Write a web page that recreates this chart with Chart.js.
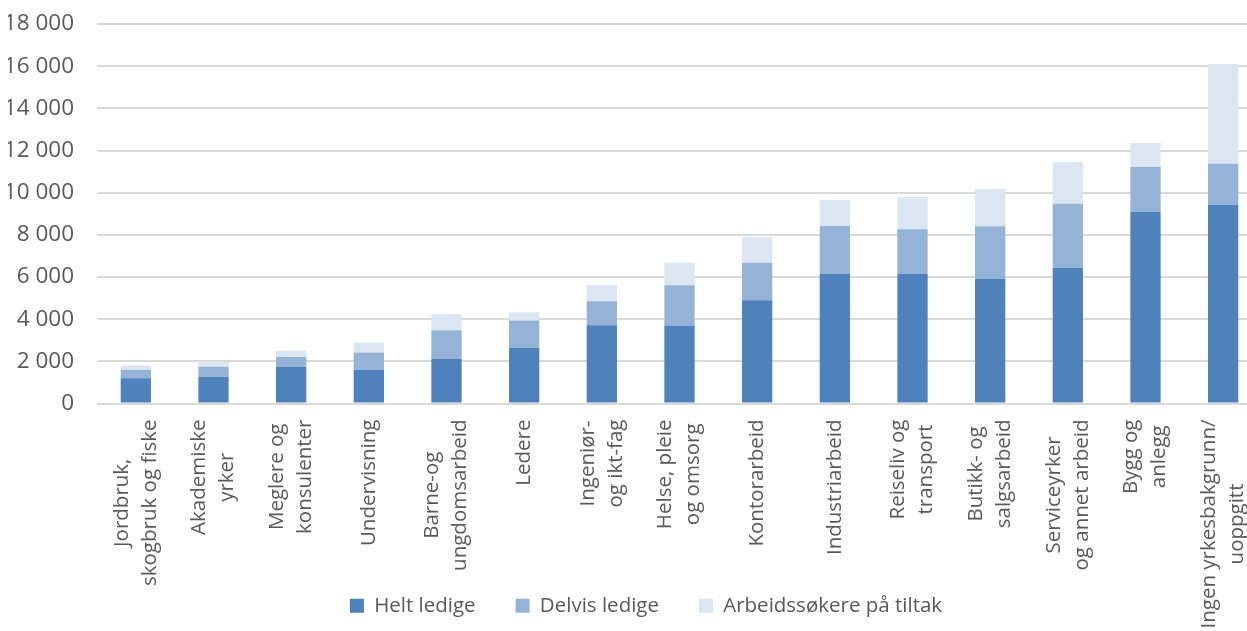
<!DOCTYPE html>
<html>
<head>
<meta charset="utf-8">
<script src="https://cdn.jsdelivr.net/npm/chart.js@4"></script>
<style>
  html, body { margin: 0; padding: 0; background: #fff; overflow: hidden; }
  #wrap { width: 1288px; height: 631px; }
</style>
</head>
<body>
<div id="wrap"><canvas id="chart"></canvas></div>
<script>
// categories, one array of lines per label
const categories = [
  ['Jordbruk,', 'skogbruk og fiske'],
  ['Akademiske', 'yrker'],
  ['Meglere og', 'konsulenter'],
  ['Undervisning'],
  ['Barne-og', 'ungdomsarbeid'],
  ['Ledere'],
  ['Ingeniør-', 'og ikt-fag'],
  ['Helse, pleie', 'og omsorg'],
  ['Kontorarbeid'],
  ['Industriarbeid'],
  ['Reiseliv og', 'transport'],
  ['Butikk- og', 'salgsarbeid'],
  ['Serviceyrker', 'og annet arbeid'],
  ['Bygg og', 'anlegg'],
  ['Ingen yrkesbakgrunn/', 'uoppgitt']
];

const seriesNames = ['Helt ledige', 'Delvis ledige', 'Arbeidssøkere på tiltak'];
const heltLedige   = [1200, 1260, 1740, 1600, 2120, 2640, 3710, 3700, 4900, 6140, 6140, 5910, 6440, 9090, 9410];
const delvisLedige = [400, 480, 460, 820, 1360, 1300, 1140, 1910, 1770, 2280, 2130, 2500, 3040, 2130, 1960];
const paaTiltak    = [200, 240, 300, 470, 760, 390, 760, 1060, 1220, 1230, 1520, 1760, 1980, 1140, 4730];

const yTickValues = [0, 2000, 4000, 6000, 8000, 10000, 12000, 14000, 16000, 18000];
const yTickLabels = ['0', '2 000', '4 000', '6 000', '8 000', '10 000', '12 000', '14 000', '16 000', '18 000'];

const textColor = '#595959';
const fontFamily = '"Open Sans", sans-serif';

// draws the rotated, centred multi-line category labels under each bar
const xLabels = {
  id: 'xLabels',
  afterDraw(chart) {
    const xs = chart.scales.x;
    const ctx = chart.ctx;
    ctx.save();
    ctx.font = '20.5px ' + fontFamily;
    ctx.fillStyle = textColor;
    ctx.textAlign = 'center';
    ctx.textBaseline = 'middle';
    categories.forEach((lines, i) => {
      const x = xs.getPixelForValue(i);
      const w = Math.max(...lines.map(l => ctx.measureText(l).width));
      const cy = chart.chartArea.bottom + 16 + w / 2;
      lines.forEach((line, j) => {
        ctx.save();
        ctx.translate(x + (j - (lines.length - 1) / 2) * 28, cy);
        ctx.rotate(-Math.PI / 2);
        ctx.fillText(line, 0, 0);
        ctx.restore();
      });
    });
    ctx.restore();
  }
};

const ctx = document.getElementById('chart').getContext('2d');
new Chart(ctx, {
  type: 'bar',
  data: {
    labels: categories,
    datasets: [
      { label: seriesNames[0], data: heltLedige, backgroundColor: '#4f81bd' },
      { label: seriesNames[1], data: delvisLedige, backgroundColor: '#95b3d7' },
      { label: seriesNames[2], data: paaTiltak, backgroundColor: '#dce6f2' }
    ]
  },
  options: {
    responsive: true,
    maintainAspectRatio: false,
    animation: false,
    events: [],
    layout: { padding: { left: 8, right: 4, top: 24, bottom: 5 } },
    datasets: { bar: { categoryPercentage: 1, barPercentage: 0.39 } },
    plugins: {
      legend: {
        position: 'bottom',
        labels: {
          boxWidth: 14,
          boxHeight: 14,
          padding: 40,
          color: textColor,
          font: { family: fontFamily, size: 20.5 }
        }
      },
      tooltip: { enabled: false }
    },
    scales: {
      x: {
        stacked: true,
        grid: { display: false },
        border: { display: false },
        ticks: { display: false },
        afterFit(axis) { axis.height = 152; }
      },
      y: {
        stacked: true,
        min: 0,
        max: 18000,
        afterBuildTicks(axis) { axis.ticks = yTickValues.map(v => ({ value: v })); },
        afterFit(axis) { axis.width = 89; },
        grid: { color: '#d9d9d9', lineWidth: 2, drawTicks: true, tickLength: 23, tickColor: 'rgba(0,0,0,0)' },
        border: { display: false },
        ticks: {
          padding: 0,
          color: textColor,
          font: { family: fontFamily, size: 22.5 },
          callback: (value, index) => yTickLabels[index]
        }
      },
      // empty right-hand strip, only there to keep the legend centred like the original
      yRight: {
        position: 'right',
        min: 0,
        max: 18000,
        grid: { display: false },
        border: { display: false },
        ticks: { display: false },
        afterFit(axis) { axis.width = 22; }
      }
    }
  },
  plugins: [xLabels]
});
</script>
</body>
</html>
